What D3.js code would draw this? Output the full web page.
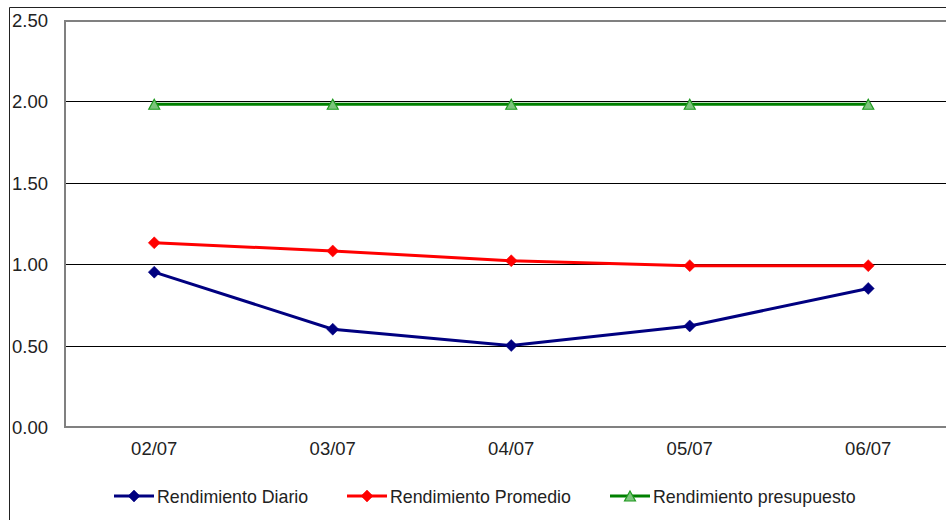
<!DOCTYPE html>
<html>
<head>
<meta charset="utf-8">
<script src="https://cdn.jsdelivr.net/npm/d3@7/dist/d3.min.js"></script>
<style>
  html, body { margin: 0; padding: 0; background: #fff; }
  svg { display: block; font-family: "Liberation Sans", Arial, sans-serif; }
</style>
</head>
<body>
<svg id="chart" width="946" height="520"></svg>
<script>
// Daily yield figures per date
const dates = ["02/07", "03/07", "04/07", "05/07", "06/07"];
const rendimientoDiario = [0.95, 0.60, 0.50, 0.62, 0.85];
const rendimientoPromedio = [1.13, 1.08, 1.02, 0.99, 0.99];
const rendimientoPresupuesto = [1.98, 1.98, 1.98, 1.98, 1.98];
const yTicks = [0, 0.5, 1.0, 1.5, 2.0, 2.5];

const seriesList = [
  { name: "Rendimiento Diario", values: rendimientoDiario, color: "#000080", marker: "diamond" },
  { name: "Rendimiento Promedio", values: rendimientoPromedio, color: "#ff0000", marker: "diamond" },
  { name: "Rendimiento presupuesto", values: rendimientoPresupuesto, color: "#008000", marker: "triangle" }
];

const svg = d3.select("#chart");
const W = 946, H = 520;
const plot = { left: 65, top: 19.5, right: 957.5, bottom: 427 };

// Outer chart frame
svg.append("path")
  .attr("d", `M9.5,${H} V7.5 H${W}`)
  .attr("fill", "none").attr("stroke", "#222").attr("stroke-width", 1);

const x = d3.scaleBand().domain(dates).range([plot.left, plot.right]);
const y = d3.scaleLinear().domain([0, 2.5]).range([plot.bottom, plot.top]);

// Horizontal gridlines
svg.append("g").selectAll("line")
  .data(yTicks.filter(t => t > 0 && t < 2.5))
  .join("line")
  .attr("x1", plot.left).attr("x2", W)
  .attr("y1", d => Math.round(y(d)) + 0.5).attr("y2", d => Math.round(y(d)) + 0.5)
  .attr("stroke", "#000").attr("stroke-width", 1);

// Plot area border (top, left, bottom)
svg.append("path")
  .attr("d", `M${W},${y(2.5) + 1.5} H${plot.left} V${plot.bottom} H${W}`)
  .attr("fill", "none").attr("stroke", "#808080").attr("stroke-width", 2);

// Y axis labels
const yAxis = d3.axisLeft(y).tickValues(yTicks).tickFormat(d3.format(".2f")).tickSize(0);
const gy = svg.append("g").attr("transform", "translate(12,0)").call(yAxis);
gy.select(".domain").remove();
gy.selectAll("text")
  .attr("x", 0).attr("dy", "0.36em")
  .attr("text-anchor", "start")
  .attr("font-size", 18.5).attr("fill", "#222")
  .attr("font-family", "Liberation Sans, Arial, sans-serif");

// X axis labels
const xAxis = d3.axisBottom(x).tickSize(0);
const gx = svg.append("g").attr("transform", `translate(0,${plot.bottom})`).call(xAxis);
gx.select(".domain").remove();
gx.selectAll("text")
  .attr("y", 28).attr("dy", 0)
  .attr("font-size", 18.5).attr("fill", "#222")
  .attr("font-family", "Liberation Sans, Arial, sans-serif");

const cx = d => x(d) + x.bandwidth() / 2;
const line = d3.line().x(d => cx(d.date)).y(d => y(d.value));

// Square diamond (rotated square) and small triangle markers
const diamondPath = "M0,-6 L6,0 L0,6 L-6,0 Z";
const trianglePath = "M0,-5 L5.5,5 L-5.5,5 Z";

function drawMarker(g, type, color) {
  if (type === "diamond") {
    g.append("path").attr("d", diamondPath).attr("fill", color).attr("stroke", color).attr("stroke-width", 0.5);
  } else {
    g.append("path").attr("d", trianglePath)
      .attr("fill", "#7cc47c").attr("stroke", "#1e9a1e").attr("stroke-width", 1.2);
  }
}

seriesList.forEach(s => {
  const pts = dates.map((d, i) => ({ date: d, value: s.values[i] }));
  svg.append("path").datum(pts)
    .attr("d", line)
    .attr("fill", "none").attr("stroke", s.color).attr("stroke-width", 3);
  svg.append("g").selectAll("g").data(pts).join("g")
    .attr("transform", d => `translate(${cx(d.date)},${y(d.value)})`)
    .each(function () { drawMarker(d3.select(this), s.marker, s.color); });
});

// Legend
const legendX = [114, 347, 610];
const legendY = 496;
seriesList.forEach((s, i) => {
  const g = svg.append("g").attr("transform", `translate(${legendX[i]},${legendY})`);
  g.append("line").attr("x1", 0).attr("x2", 40).attr("y1", 0).attr("y2", 0)
    .attr("stroke", s.color).attr("stroke-width", 3);
  const m = g.append("g").attr("transform", "translate(20,0)");
  drawMarker(m, s.marker, s.color);
  g.append("text").attr("x", 43).attr("y", 7)
    .attr("font-size", 17.8).attr("fill", "#222").text(s.name);
});
</script>
</body>
</html>
